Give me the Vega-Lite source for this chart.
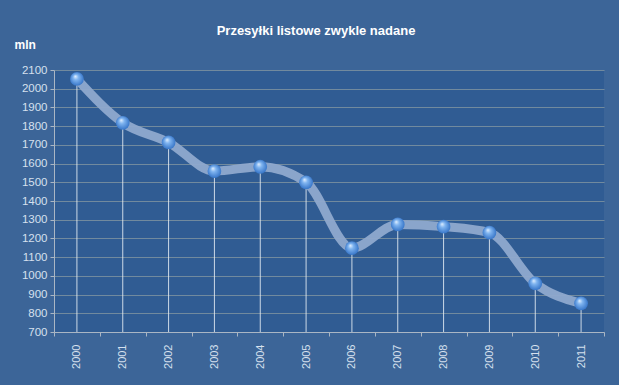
{
  "$schema": "https://vega.github.io/schema/vega-lite/v6.json",
  "width": 550,
  "height": 262,
  "autosize": "none",
  "padding": {"left": 54, "top": 70, "right": 15, "bottom": 53},
  "background": "#3c6598",
  "title": {
    "text": "Przesyłki listowe zwykle nadane",
    "font": "Liberation Sans",
    "fontSize": 13,
    "fontWeight": "bold",
    "color": "#ffffff",
    "anchor": "middle",
    "dx": -13,
    "offset": 0
  },
  "config": {
    "view": {"fill": "#305c93", "stroke": null},
    "axis": {"labelFont": "Liberation Sans", "titleFont": "Liberation Sans"}
  },
  "data": {
    "values": [
      {"year": "2000", "value": 2052},
      {"year": "2001", "value": 1818},
      {"year": "2002", "value": 1713},
      {"year": "2003", "value": 1560},
      {"year": "2004", "value": 1583},
      {"year": "2005", "value": 1500},
      {"year": "2006", "value": 1148},
      {"year": "2007", "value": 1275},
      {"year": "2008", "value": 1263},
      {"year": "2009", "value": 1231},
      {"year": "2010", "value": 960},
      {"year": "2011", "value": 853}
    ]
  },
  "encoding": {
    "x": {
      "field": "year",
      "type": "ordinal",
      "scale": {"paddingInner": 0, "paddingOuter": 0},
      "axis": {
        "title": null,
        "labelAngle": -90,
        "labelColor": "#d6e0ee",
        "labelFontSize": 11,
        "labelPadding": 8,
        "tickBand": "extent",
        "tickColor": "#aab6c4",
        "tickSize": 4,
        "domainColor": "#aab6c4",
        "grid": false
      }
    },
    "y": {
      "field": "value",
      "type": "quantitative",
      "scale": {"domain": [700, 2100], "nice": false, "zero": false},
      "axis": {
        "title": "mln",
        "titleAngle": 0,
        "titleAlign": "left",
        "titleBaseline": "middle",
        "titleX": -40,
        "titleY": -26,
        "titleColor": "#ffffff",
        "titleFontSize": 12,
        "titleFontWeight": "bold",
        "format": "d",
        "values": [700, 800, 900, 1000, 1100, 1200, 1300, 1400, 1500, 1600, 1700, 1800, 1900, 2000, 2100],
        "labelColor": "#d6e0ee",
        "labelFontSize": 11.5,
        "labelPadding": 3,
        "tickColor": "#aab6c4",
        "tickSize": 4,
        "domainColor": "#aab6c4",
        "grid": true,
        "gridColor": "#a8b0a8",
        "gridOpacity": 0.55,
        "gridWidth": 1
      }
    }
  },
  "layer": [
    {
      "mark": {"type": "rule", "color": "#e8eef6", "strokeWidth": 1, "opacity": 0.85},
      "encoding": {"y2": {"datum": 700}}
    },
    {
      "mark": {"type": "line", "interpolate": "monotone", "color": "#8fa9cd", "strokeWidth": 9, "strokeCap": "round", "opacity": 0.95}
    },
    {
      "mark": {
        "type": "point",
        "filled": true,
        "size": 190,
        "opacity": 1,
        "strokeWidth": 0,
        "fill": {
          "gradient": "radial",
          "x1": 0.38, "y1": 0.3, "r1": 0,
          "x2": 0.5, "y2": 0.5, "r2": 0.55,
          "stops": [
            {"offset": 0, "color": "#e6f2ff"},
            {"offset": 0.35, "color": "#7fb4f0"},
            {"offset": 1, "color": "#2f6fc4"}
          ]
        }
      }
    }
  ]
}
